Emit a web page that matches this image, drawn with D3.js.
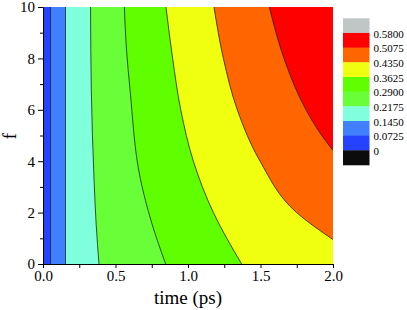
<!DOCTYPE html>
<html>
<head>
<meta charset="utf-8">
<script src="https://cdn.jsdelivr.net/npm/d3@7"></script>
<style>
  body { margin: 0; background: #fff; }
  svg text { font-family: "Liberation Serif", "Times New Roman", serif; }
</style>
</head>
<body>
<div class="graph"></div>
<script>
// contour levels and band colours (lowest band first)
const levels = [0.0725, 0.145, 0.2175, 0.29, 0.3625, 0.435, 0.5075];
const bandColors = ["#2442ff", "#4080ff", "#80ffdd", "#68ff38", "#60ff00", "#f0ff0f", "#ff6600", "#ff0000"];

// contour lines, as [time, f] pairs from f = 10 downwards
const line0725 = [[0.052, 10], [0.052, 0]];
const line1450 = [[0.155, 10], [0.155, 0]];
const line2175 = [[0.328, 10], [0.333, 6.8], [0.352, 3.3], [0.366, 1.6], [0.386, 0]];
const line2900 = [[0.561, 10], [0.575, 8.4], [0.6, 6.8], [0.672, 3.3], [0.748, 1.63], [0.846, 0]];
const line3625 = [[0.848, 10], [0.894, 8], [0.95, 6], [1.037, 4], [1.175, 2], [1.37, 0]];
const line4350 = [[1.179, 10], [1.244, 8], [1.34, 6], [1.497, 4], [1.749, 2], [2.0, 0.95]];
const line5075 = [[1.561, 10], [1.662, 8], [1.814, 6], [1.91, 5.1], [2.0, 4.42]];
const contourLines = [line0725, line1450, line2175, line2900, line3625, line4350, line5075];

// axis ticks
const xTicks = [0, 0.5, 1.0, 1.5, 2.0];
const xMinor = [0.25, 0.75, 1.25, 1.75];
const yTicks = [0, 2, 4, 6, 8, 10];
const yMinor = [1, 3, 5, 7, 9];

// legend, top to bottom
const legendColors = ["#c0c6c6", "#ff0000", "#ff6600", "#f0ff0f", "#60ff00", "#68ff38", "#80ffdd", "#4080ff", "#2442ff", "#0c0c0c"];
const legendLabels = ["0.5800", "0.5075", "0.4350", "0.3625", "0.2900", "0.2175", "0.1450", "0.0725", "0"];

const W = 407, H = 310;
const mLeft = 43, mTop = 7, plotW = 290, plotH = 257;

const svg = d3.select(".graph").append("svg")
  .attr("width", W)
  .attr("height", H);

const x = d3.scaleLinear().domain([0, 2]).range([mLeft, mLeft + plotW]);
const y = d3.scaleLinear().domain([0, 10]).range([mTop + plotH, mTop]);

svg.append("clipPath").attr("id", "plotClip")
  .append("rect")
  .attr("x", mLeft).attr("y", mTop)
  .attr("width", plotW).attr("height", plotH);

const plot = svg.append("g").attr("clip-path", "url(#plotClip)");

// lowest band fills the whole area
plot.append("rect")
  .attr("x", mLeft).attr("y", mTop)
  .attr("width", plotW).attr("height", plotH)
  .attr("fill", bandColors[0]);

const line = d3.line()
  .x(d => x(d[0]))
  .y(d => y(d[1]))
  .curve(d3.curveMonotoneY);

// each band: everything right of its contour line
plot.selectAll("path.band")
  .data(contourLines)
  .join("path")
  .attr("class", "band")
  .attr("d", d => {
    let last = d[d.length - 1];
    return line(d) + "L" + x(2) + "," + y(last[1]) + "L" + x(2) + "," + y(10) + "Z";
  })
  .attr("fill", (d, i) => bandColors[i + 1]);

plot.selectAll("path.contour")
  .data(contourLines)
  .join("path")
  .attr("class", "contour")
  .attr("d", d => line(d))
  .attr("fill", "none")
  .attr("stroke", "#222")
  .attr("stroke-width", 0.8);

// axes
const xAxis = svg.append("g")
  .attr("transform", "translate(0," + (mTop + plotH) + ")")
  .call(d3.axisBottom(x).tickValues(xTicks).tickFormat(d3.format(".1f")).tickSize(4).tickSizeOuter(0));
svg.append("g")
  .attr("transform", "translate(0," + (mTop + plotH) + ")")
  .call(d3.axisBottom(x).tickValues(xMinor).tickFormat("").tickSize(4).tickSizeOuter(0))
  .select(".domain").remove();

const yAxis = svg.append("g")
  .attr("transform", "translate(" + mLeft + ",0)")
  .call(d3.axisLeft(y).tickValues(yTicks).tickSize(5).tickSizeOuter(0));
svg.append("g")
  .attr("transform", "translate(" + mLeft + ",0)")
  .call(d3.axisLeft(y).tickValues(yMinor).tickFormat("").tickSize(3).tickSizeOuter(0))
  .select(".domain").remove();

svg.selectAll(".tick line, .domain").attr("stroke", "#000").attr("stroke-width", 1);
xAxis.selectAll("text")
  .attr("font-family", "Liberation Serif, serif")
  .attr("font-size", 15)
  .attr("fill", "#000")
  .attr("dy", "0.75em")
  .attr("y", 6);
yAxis.selectAll("text")
  .attr("font-family", "Liberation Serif, serif")
  .attr("font-size", 15)
  .attr("fill", "#000")
  .attr("x", -8);

// axis titles
svg.append("text")
  .attr("x", x(1))
  .attr("y", 304)
  .attr("text-anchor", "middle")
  .attr("font-size", 19)
  .text("time (ps)");

svg.append("text")
  .attr("transform", "translate(16,136) rotate(-90)")
  .attr("text-anchor", "middle")
  .attr("font-size", 19)
  .text("f");

// legend
const legX = 343, legY = 18.3, boxW = 26.5, boxH = 14.67;
const legend = svg.append("g");
legend.selectAll("rect")
  .data(legendColors)
  .join("rect")
  .attr("x", legX)
  .attr("y", (d, i) => legY + i * boxH)
  .attr("width", boxW)
  .attr("height", boxH + 0.3)
  .attr("fill", d => d);
legend.selectAll("text")
  .data(legendLabels)
  .join("text")
  .attr("x", legX + boxW + 4)
  .attr("y", (d, i) => legY + (i + 1) * boxH)
  .attr("dy", "0.42em")
  .attr("font-family", "Liberation Sans, Arial, sans-serif")
  .attr("font-size", 11)
  .attr("fill", "#000")
  .text(d => d);
</script>
</body>
</html>
